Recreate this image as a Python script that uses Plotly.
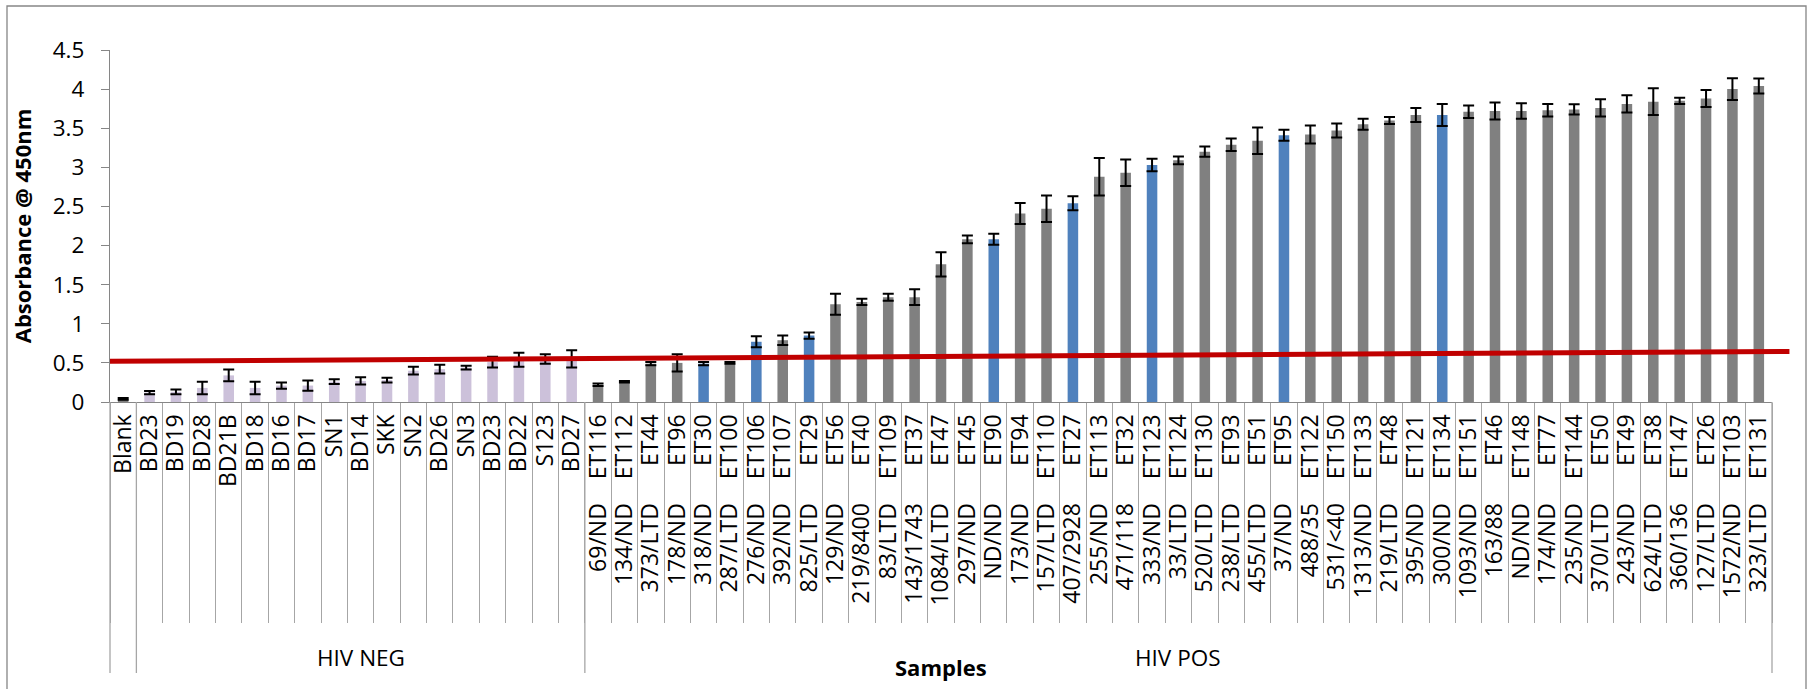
import plotly.graph_objects as go

# ---------------- data ----------------
blank_id = "Blank"
blank_val = 0.04
blank_err = 0.01

neg_ids = ["BD23", "BD19", "BD28", "BD21B", "BD18", "BD16", "BD17", "SN1", "BD14",
           "SKK", "SN2", "BD26", "SN3", "BD23", "BD22", "S123", "BD27"]
neg_vals = [0.12, 0.13, 0.18, 0.34, 0.18, 0.21, 0.21, 0.26, 0.27,
            0.28, 0.40, 0.42, 0.44, 0.51, 0.54, 0.55, 0.55]
neg_err = [0.02, 0.03, 0.08, 0.075, 0.08, 0.04, 0.065, 0.03, 0.045,
           0.03, 0.05, 0.055, 0.025, 0.07, 0.09, 0.06, 0.11]

pos_ids = ["ET116", "ET112", "ET44", "ET96", "ET30", "ET100", "ET106", "ET107", "ET29",
           "ET56", "ET40", "ET109", "ET37", "ET47", "ET45", "ET90", "ET94", "ET110",
           "ET27", "ET113", "ET32", "ET123", "ET124", "ET130", "ET93", "ET51", "ET95",
           "ET122", "ET150", "ET133", "ET48", "ET121", "ET134", "ET151", "ET46", "ET148",
           "ET77", "ET144", "ET50", "ET49", "ET38", "ET147", "ET26", "ET103", "ET131"]
pos_vl = ["69/ND", "134/ND", "373/LTD", "178/ND", "318/ND", "287/LTD", "276/ND", "392/ND",
          "825/LTD", "129/ND", "219/8400", "83/LTD", "143/1743", "1084/LTD", "297/ND",
          "ND/ND", "173/ND", "157/LTD", "407/2928", "255/ND", "471/118", "333/ND",
          "33/LTD", "520/LTD", "238/LTD", "455/LTD", "37/ND", "488/35", "531/<40",
          "1313/ND", "219/LTD", "395/ND", "300/ND", "1093/ND", "163/88", "ND/ND",
          "174/ND", "235/ND", "370/LTD", "243/ND", "624/LTD", "360/136", "127/LTD",
          "1572/ND", "323/LTD"]
pos_vals = [0.22, 0.26, 0.49, 0.50, 0.49, 0.50, 0.77, 0.79, 0.85, 1.25, 1.28, 1.34, 1.34,
            1.76, 2.08, 2.08, 2.41, 2.47, 2.54, 2.88, 2.93, 3.03, 3.09, 3.20, 3.29, 3.34,
            3.41, 3.42, 3.47, 3.55, 3.60, 3.67, 3.67, 3.71, 3.72, 3.72, 3.73, 3.74, 3.76,
            3.81, 3.84, 3.85, 3.88, 4.00, 4.04]
pos_err = [0.015, 0.01, 0.02, 0.11, 0.02, 0.01, 0.07, 0.06, 0.04, 0.135, 0.04, 0.045, 0.10,
           0.155, 0.05, 0.07, 0.135, 0.17, 0.09, 0.24, 0.17, 0.08, 0.05, 0.065, 0.08, 0.17,
           0.07, 0.115, 0.09, 0.07, 0.045, 0.09, 0.14, 0.08, 0.11, 0.10, 0.08, 0.065, 0.11,
           0.11, 0.17, 0.04, 0.11, 0.14, 0.095]

highlight_ids = ["ET30", "ET106", "ET29", "ET90", "ET27", "ET123", "ET95", "ET134"]

group_names = ["", "HIV NEG", "HIV POS"]
cutoff_start = 0.52
cutoff_end = 0.645

# ---------------- build ----------------
GREY = "#808080"
LAV = "#CCC1DA"
BLUE = "#4F81BD"
AXC = "#868686"
SEPC = "#A6A6A6"
NB = "\u00a0"
FSP = "\u2007"


def pos_label(eid, vl):
    pad = FSP if len(eid) < 5 else ""
    return vl + NB * 4 + pad + eid


ids = [blank_id] + neg_ids + pos_ids
labels = [blank_id] + neg_ids + [pos_label(e, v) for e, v in zip(pos_ids, pos_vl)]
keys = []
for s in ids:
    k = s
    n = 2
    while k in keys:
        k = f"{s} ({n})"
        n += 1
    keys.append(k)
vals = [blank_val] + neg_vals + pos_vals
errs = [blank_err] + neg_err + pos_err
colors = [GREY] + [LAV] * len(neg_ids) + [BLUE if e in highlight_ids else GREY for e in pos_ids]

N = len(keys)
group_sizes = [1, len(neg_ids), len(pos_ids)]

fig = go.Figure()
fig.add_trace(go.Bar(
    x=keys, y=vals, width=0.4,
    marker=dict(color=colors, line=dict(width=0)),
    error_y=dict(type="data", array=errs, color="black", thickness=2, width=5.5),
    hoverinfo="x+y",
))

FONT = "Open Sans"
PLOT_H = 352.0  # plot area height in px (for paper conversions)

shapes = []
# cutoff line (extends slightly past the category axis end, like the original)
shapes.append(dict(type="line", xref="paper", yref="y", x0=0, x1=1.0105,
                   y0=cutoff_start, y1=cutoff_end, line=dict(color="#C00000", width=5)))
# group separators
b = 0
bounds = [0]
for s in group_sizes:
    b += s
    bounds.append(b)
for bb in bounds:
    shapes.append(dict(type="line", xref="paper", yref="paper", x0=bb / N, x1=bb / N,
                       y0=0, y1=-271 / PLOT_H, line=dict(color=SEPC, width=1.3)))
# chart-area frame
shapes.append(dict(type="rect", xref="paper", yref="paper",
                   x0=-103 / 1662, x1=1696 / 1662, y0=-300 / PLOT_H, y1=396 / PLOT_H,
                   line=dict(color=AXC, width=1.3), fillcolor="rgba(0,0,0,0)", layer="below"))

annotations = []
start = 0
for name, s in zip(group_names, group_sizes):
    if name:
        annotations.append(dict(x=start + (s - 1) / 2, xref="x", y=-255 / PLOT_H, yref="paper",
                                text=name, showarrow=False, yanchor="middle",
                                font=dict(family=FONT, size=22.5, color="black")))
    start += s
annotations.append(dict(x=0.5, xref="paper", y=-265 / PLOT_H, yref="paper", text="Samples",
                        showarrow=False, yanchor="middle",
                        font=dict(family=FONT, size=22, color="black", weight="bold")))

fig.update_layout(
    width=1807, height=689, autosize=False,
    margin=dict(l=110, r=35, t=50, b=287, pad=0),
    paper_bgcolor="white", plot_bgcolor="white",
    showlegend=False,
    font=dict(family=FONT, color="black"),
    bargap=0.6,
    shapes=shapes,
    annotations=annotations,
    xaxis=dict(
        type="category", categoryorder="array", categoryarray=keys,
        tickmode="array", tickvals=keys, ticktext=labels,
        tickangle=-90, ticks="outside", tickson="boundaries", ticklen=220,
        tickwidth=1.3, tickcolor=SEPC,
        showline=True, linecolor=AXC, linewidth=1.3,
        tickfont=dict(family=FONT, size=23, color="black"),
        ticklabelstandoff=2,
        range=[-0.5, N - 0.5], showgrid=False, zeroline=False, automargin=False,
    ),
    yaxis=dict(
        range=[0, 4.5], tick0=0, dtick=0.5, ticks="outside", ticklen=8,
        tickwidth=1.3, tickcolor=AXC, showline=True, linecolor=AXC, linewidth=1.3,
        tickfont=dict(family=FONT, size=22.5, color="black"),
        ticklabelstandoff=12,
        title=dict(text="Absorbance @ 450nm", standoff=15,
                   font=dict(family=FONT, size=22, color="black", weight="bold")),
        showgrid=False, zeroline=False, automargin=False,
    ),
)

fig.write_html("out.html", config={"displayModeBar": False},
               post_script="document.body.style.margin='0';document.body.style.overflow='hidden';")
